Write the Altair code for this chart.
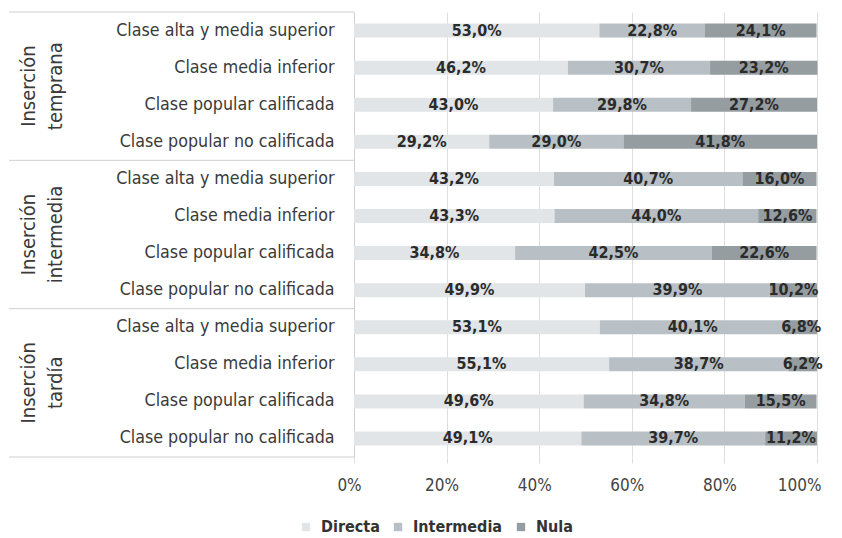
import altair as alt
import pandas as pd

groups = ["Inserción\ntemprana", "Inserción\nintermedia", "Inserción\ntardía"]
clases = ["Clase alta y media superior", "Clase media inferior",
          "Clase popular calificada", "Clase popular no calificada"]
series = ["Directa", "Intermedia", "Nula"]
directa = [53.0, 46.2, 43.0, 29.2, 43.2, 43.3, 34.8, 49.9, 53.1, 55.1, 49.6, 49.1]
intermedia = [22.8, 30.7, 29.8, 29.0, 40.7, 44.0, 42.5, 39.9, 40.1, 38.7, 34.8, 39.7]
nula = [24.1, 23.2, 27.2, 41.8, 16.0, 12.6, 22.6, 10.2, 6.8, 6.2, 15.5, 11.2]
colors = ["#e1e5e8", "#b8c0c5", "#959da1"]

FONT = "DejaVu Sans Condensed, sans-serif"

rows = []
row_keys = []
for gi, g in enumerate(groups):
    for ci, c in enumerate(clases):
        row_keys.append(f"{gi}|{c}")
for i, key in enumerate(row_keys):
    for si, (s, vals) in enumerate(zip(series, [directa, intermedia, nula])):
        v = vals[i]
        rows.append({"row": key, "serie": s, "order": si, "value": v,
                     "label": f"{v:.1f}".replace(".", ",") + "%"})
df = pd.DataFrame(rows)

ysc = alt.Scale(domain=row_keys, paddingInner=0, paddingOuter=0)
yaxis = alt.Axis(title=None, labelExpr="split(datum.label, '|')[1]",
                 labelFont=FONT, labelFontSize=17.7, labelColor="#3a3a3a",
                 labelPadding=20, ticks=False, domain=True,
                 domainColor="#cfcfcf", domainWidth=1, labelLimit=400)

base = alt.Chart(df).transform_stack(
    stack="value", groupby=["row"], sort=[alt.SortField("order")], as_=["x0", "x1"]
).transform_calculate(mid="(datum.x0 + datum.x1) / 2")

bars = base.mark_bar(size=14).encode(
    y=alt.Y("row:N", scale=ysc, axis=yaxis),
    x=alt.X("x0:Q", scale=alt.Scale(domain=[0, 100]),
            axis=alt.Axis(title=None, values=[0, 20, 40, 60, 80, 100],
                          labelExpr="datum.value + '%'", labelFont=FONT,
                          labelFontSize=17, labelColor="#444444",
                          labelPadding=14, labelFlush=False,
                          labelAlign=alt.condition("datum.value == 100",
                                                   alt.value("right"), alt.value("center")),
                          labelOffset=alt.condition("datum.value == 100",
                                                    alt.value(4), alt.value(-5)),
                          grid=True, gridColor="#dedede",
                          tickColor="#dedede", tickSize=6, domain=False)),
    x2="x1:Q",
    color=alt.Color("serie:N", scale=alt.Scale(domain=series, range=colors),
                    legend=alt.Legend(title=None, orient="none", direction="horizontal",
                                      legendX=-56, legendY=507,
                                      symbolType="square", symbolSize=70,
                                      symbolStrokeWidth=0, labelFont=FONT,
                                      labelFontSize=16, labelFontWeight="bold",
                                      labelColor="#333333", labelOffset=7,
                                      columnPadding=10)),
)

texts = base.mark_text(font=FONT, fontSize=16, fontWeight="bold",
                       color="#2b2b2b", baseline="middle").encode(
    y=alt.Y("row:N", scale=ysc),
    x=alt.X("mid:Q"),
    text="label:N",
)

gdf = pd.DataFrame({
    "group": groups,
    "first": [row_keys[gi * 4] for gi in range(3)],
    "mid": [row_keys[gi * 4 + 1] for gi in range(3)],
    "last": [row_keys[gi * 4 + 3] for gi in range(3)],
})

top_lines = alt.Chart(gdf).mark_rule(color="#cfcfcf", strokeWidth=1).encode(
    y=alt.Y("first:N", scale=ysc, bandPosition=0),
    x=alt.value(-345), x2=alt.value(0),
)
bottom_line = alt.Chart(gdf.tail(1)).mark_rule(color="#cfcfcf", strokeWidth=1).encode(
    y=alt.Y("last:N", scale=ysc, bandPosition=1),
    x=alt.value(-345), x2=alt.value(0),
)
glabels = alt.Chart(gdf).mark_text(font=FONT, fontSize=20, color="#3a3a3a",
                                   angle=270, lineBreak="\n", lineHeight=27,
                                   align="center", baseline="middle").encode(
    y=alt.Y("mid:N", scale=ysc, bandPosition=1),
    x=alt.value(-325),
    text="group:N",
)

chart = alt.layer(bars, texts, top_lines, bottom_line, glabels).properties(
    width=463, height=445,
    padding={"left": 0, "top": 3, "right": 0, "bottom": 0},
).configure_view(stroke=None).configure_axisY(domainColor="#cfcfcf")

chart.save("out.html", embed_options={"renderer": "svg", "actions": False})
